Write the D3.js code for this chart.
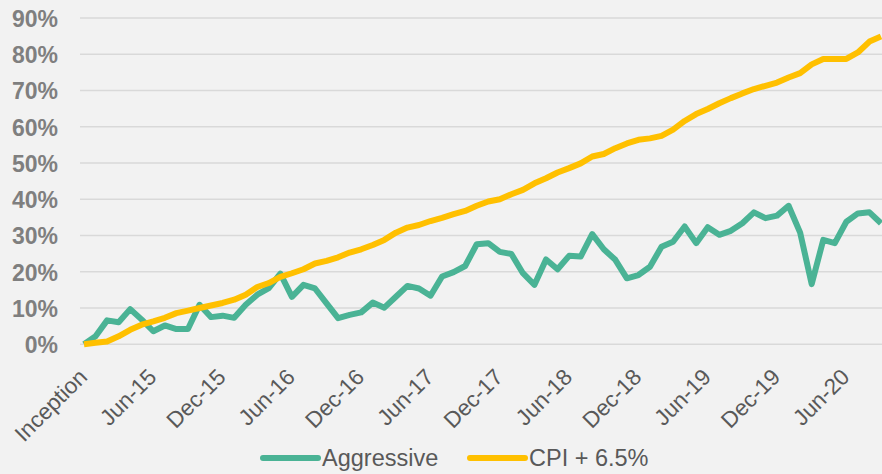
<!DOCTYPE html>
<html>
<head>
<meta charset="utf-8">
<script src="https://cdn.jsdelivr.net/npm/d3@7"></script>
<style>
  body { margin: 0; background: #f2f2f2; }
  svg { display: block; font-family: "Liberation Sans", Arial, sans-serif; }
</style>
</head>
<body>
<div id="chart-area"></div>
<script>
const months = ["Inception",
  "Jan-15", "Feb-15", "Mar-15", "Apr-15", "May-15", "Jun-15", "Jul-15", "Aug-15", "Sep-15", "Oct-15", "Nov-15", "Dec-15",
  "Jan-16", "Feb-16", "Mar-16", "Apr-16", "May-16", "Jun-16", "Jul-16", "Aug-16", "Sep-16", "Oct-16", "Nov-16", "Dec-16",
  "Jan-17", "Feb-17", "Mar-17", "Apr-17", "May-17", "Jun-17", "Jul-17", "Aug-17", "Sep-17", "Oct-17", "Nov-17", "Dec-17",
  "Jan-18", "Feb-18", "Mar-18", "Apr-18", "May-18", "Jun-18", "Jul-18", "Aug-18", "Sep-18", "Oct-18", "Nov-18", "Dec-18",
  "Jan-19", "Feb-19", "Mar-19", "Apr-19", "May-19", "Jun-19", "Jul-19", "Aug-19", "Sep-19", "Oct-19", "Nov-19", "Dec-19",
  "Jan-20", "Feb-20", "Mar-20", "Apr-20", "May-20", "Jun-20", "Jul-20", "Aug-20", "Sep-20"];

// cumulative return, %
const aggressive = [0, 2.2, 6.6, 6.1, 9.7, 6.8, 3.6, 5.2, 4.2, 4.2,
  10.9, 7.5, 7.9, 7.3, 10.9, 13.7, 15.5, 19.5, 13.1, 16.4,
  15.4, 11.3, 7.2, 8.1, 8.8, 11.5, 10.1, 13.1, 16.1, 15.4,
  13.4, 18.7, 19.9, 21.6, 27.6, 27.9, 25.5, 24.9, 19.6, 16.4,
  23.4, 20.7, 24.4, 24.2, 30.4, 26.2, 23.3, 18.2, 19.1, 21.4,
  26.9, 28.3, 32.5, 27.9, 32.3, 30.2, 31.3, 33.4, 36.4, 34.8,
  35.5, 38.2, 30.8, 16.6, 28.8, 27.9, 33.8, 36.1, 36.4, 33.4];

const cpi = [0, 0.4, 0.8, 2.2, 4.0, 5.4, 6.3, 7.3, 8.6, 9.3,
  10.0, 10.7, 11.4, 12.3, 13.7, 15.8, 16.9, 18.6, 19.6, 20.7,
  22.3, 23.0, 24.0, 25.3, 26.2, 27.4, 28.8, 30.8, 32.2, 32.9,
  34.0, 34.9, 35.9, 36.8, 38.2, 39.4, 40.0, 41.4, 42.6, 44.4,
  45.8, 47.4, 48.6, 49.9, 51.8, 52.5, 54.1, 55.4, 56.4, 56.8,
  57.5, 59.2, 61.6, 63.5, 64.9, 66.5, 67.9, 69.2, 70.4, 71.3,
  72.2, 73.6, 74.8, 77.2, 78.7, 78.7, 78.7, 80.5, 83.5, 84.9];

const xTicks = ["Inception", "Jun-15", "Dec-15", "Jun-16", "Dec-16", "Jun-17", "Dec-17",
  "Jun-18", "Dec-18", "Jun-19", "Dec-19", "Jun-20"];
const yTicks = [0, 10, 20, 30, 40, 50, 60, 70, 80, 90];

const series = [
  { name: "Aggressive", values: aggressive, color: "#4AB395" },
  { name: "CPI + 6.5%", values: cpi, color: "#FFC000" }
];

const width = 882, height = 474;

const svg = d3.select("#chart-area")
  .append("svg")
  .attr("width", width)
  .attr("height", height);

svg.append("rect").attr("width", width).attr("height", height).attr("fill", "#f2f2f2");

const x = d3.scalePoint().domain(months).range([84, 881]);
const y = d3.scaleLinear().domain([0, 90]).range([344.3, 18]);

//gridlines
svg.append("g")
  .selectAll("line")
  .data(yTicks)
  .enter()
  .append("line")
  .attr("x1", 80)
  .attr("x2", width)
  .attr("y1", d => y(d))
  .attr("y2", d => y(d))
  .attr("stroke", "#d9d9d9")
  .attr("stroke-width", 1.5);

//y axis
const yAxisCall = d3.axisLeft(y)
  .tickValues(yTicks)
  .tickSize(0)
  .tickPadding(0)
  .tickFormat(d => d + "%");
const yAxis = svg.append("g")
  .attr("transform", "translate(58,0)")
  .call(yAxisCall);
yAxis.select(".domain").remove();
yAxis.selectAll("text")
  .attr("fill", "#7f7f7f")
  .style("font-size", "23px")
  .style("font-weight", "bold")
  .attr("dy", "0.36em");

//x axis
const xAxisCall = d3.axisBottom(x)
  .tickValues(xTicks)
  .tickSize(0)
  .tickPadding(0);
const xAxis = svg.append("g")
  .attr("transform", "translate(0,344.3)")
  .call(xAxisCall);
xAxis.select(".domain").remove();
xAxis.selectAll("text")
  .attr("fill", "#595959")
  .style("font-size", "22.5px")
  .attr("text-anchor", "end")
  .attr("transform", "translate(4,34) rotate(-45)")
  .attr("y", 0)
  .attr("dy", 0);

//lines
const line = d3.line()
  .x((d, i) => x(months[i]))
  .y(d => y(d));

svg.selectAll(".series")
  .data(series)
  .enter()
  .append("path")
  .attr("class", "series")
  .attr("d", d => line(d.values))
  .attr("fill", "none")
  .attr("stroke", d => d.color)
  .attr("stroke-width", 6)
  .attr("stroke-linejoin", "round");

//legend
const legendX = [263, 470];
const legend = svg.selectAll(".legend")
  .data(series)
  .enter()
  .append("g")
  .attr("class", "legend")
  .attr("transform", (d, i) => "translate(" + legendX[i] + ",458)");
legend.append("line")
  .attr("x1", 0)
  .attr("x2", 55)
  .attr("stroke", d => d.color)
  .attr("stroke-width", 6)
  .attr("stroke-linecap", "round");
legend.append("text")
  .attr("x", 59)
  .attr("dy", "0.36em")
  .attr("fill", "#595959")
  .style("font-size", "23.5px")
  .text(d => d.name);
</script>
</body>
</html>
